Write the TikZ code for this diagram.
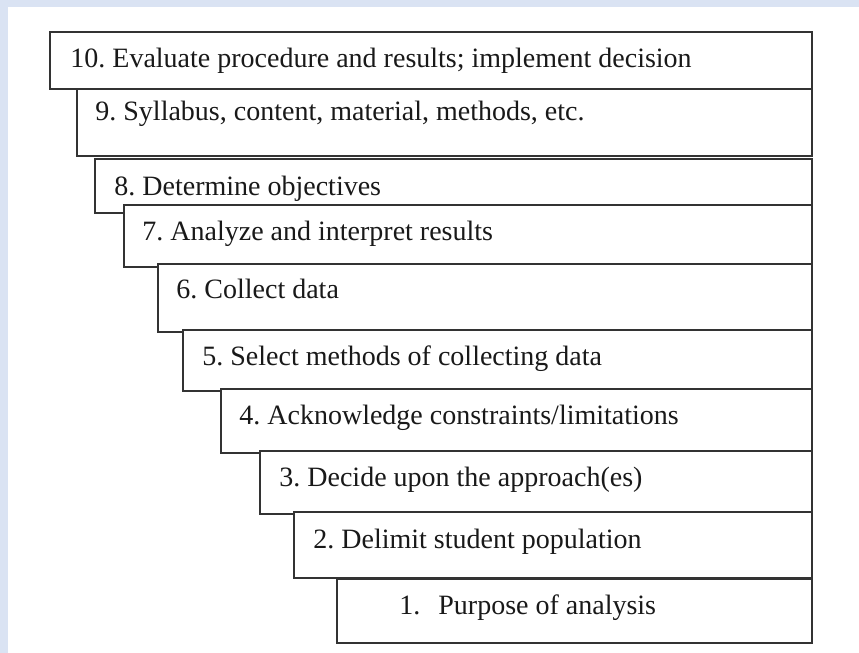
\documentclass[tikz,border=0pt]{standalone}
\usepackage{xcolor}
\usepackage{fontspec}
\setmainfont{Liberation Serif}
\usepackage{tikz}
\usetikzlibrary{positioning}
\definecolor{pagebg}{HTML}{DAE3F3}
\definecolor{boxline}{HTML}{333333}
\frenchspacing

\begin{document}
\begin{tikzpicture}[x=0.5pt,y=-0.5pt,
        stepbox/.style={draw=boxline,fill=white,line width=0.8pt},
        steptext/.style={anchor=base west,inner sep=0pt,font=\fontsize{14}{16}\selectfont,text=black!90}]
        \fill [pagebg] (0,0) rectangle (859,653);
        \fill [white] (8,7) rectangle (859,653);
        \coordinate (s10) at (50,32);
        \path [stepbox] (s10) rectangle (812,89);
        \path (s10) ++(20,36) node (t10) [steptext] {10. Evaluate procedure and results; implement decision};
        \coordinate (s9) at (77,89);
        \path [stepbox] (s9) rectangle (812,156);
        \path (s9) ++(18,31) node (t9) [steptext] {9. Syllabus, content, material, methods, etc.};
        \coordinate (s8) at (95,159);
        \path [stepbox] (s8) rectangle (812,213);
        \path (s8) ++(19,36) node (t8) [steptext] {8. Determine objectives};
        \coordinate (s7) at (124,205);
        \path [stepbox] (s7) rectangle (812,267);
        \path (s7) ++(18,35) node (t7) [steptext] {7. Analyze and interpret results};
        \coordinate (s6) at (158,264);
        \path [stepbox] (s6) rectangle (812,332);
        \path (s6) ++(18,35) node (t6) [steptext] {6. Collect data};
        \coordinate (s5) at (183,330);
        \path [stepbox] (s5) rectangle (812,391);
        \path (s5) ++(19,35) node (t5) [steptext] {5. Select methods of collecting data};
        \coordinate (s4) at (221,389);
        \path [stepbox] (s4) rectangle (812,453);
        \path (s4) ++(18,35) node (t4) [steptext] {4. Acknowledge constraints/limitations};
        \coordinate (s3) at (260,451);
        \path [stepbox] (s3) rectangle (812,514);
        \path (s3) ++(19,35) node (t3) [steptext] {3. Decide upon the approach(es)};
        \coordinate (s2) at (294,512);
        \path [stepbox] (s2) rectangle (812,578);
        \path (s2) ++(19,36) node (t2) [steptext] {2. Delimit student population};
        \coordinate (s1) at (337,579);
        \path [stepbox] (s1) rectangle (812,643);
        \path (s1) ++(62,35) node (t1) [steptext] {1.\hspace{9pt}Purpose of analysis};
    \end{tikzpicture}
\end{document}
